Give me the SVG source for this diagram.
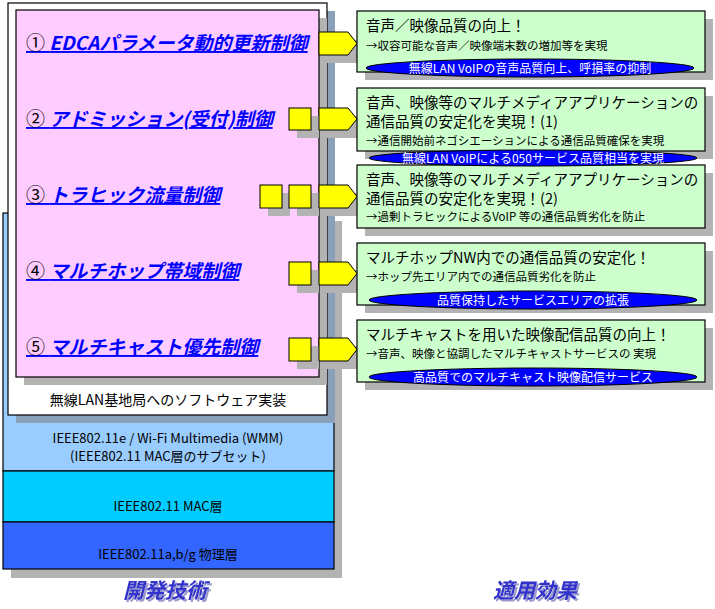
<svg xmlns="http://www.w3.org/2000/svg" width="715" height="609" viewBox="0 0 715 609">
<defs>
<filter id="ds" x="-10%" y="-20%" width="130%" height="150%"><feDropShadow dx="2" dy="2" stdDeviation="0.5" flood-color="#9999cc"/></filter>
</defs>
<style>
text{font-family:"Noto Sans CJK JP","Liberation Sans",sans-serif}
.sh{fill:#b3b3b3}
.ln{stroke:#000;stroke-width:1.2}
.lab{font-size:19px;font-weight:bold;font-style:italic;fill:#0000ff;text-decoration:underline}
.num{font-size:19px;fill:#000;font-style:normal;font-weight:normal}
.yl{fill:#ffff00;stroke:#000;stroke-width:1}
.gb{fill:#ccffcc;stroke:#000;stroke-width:1.2}
.t1{font-size:14.5px;fill:#000}
.t2{font-size:11.5px;fill:#000}
.el{fill:#0000ff;stroke:#000;stroke-width:1}
.et{font-size:12px;fill:#fff;text-anchor:middle}
.lay{font-size:13px;fill:#000;text-anchor:middle}
.big{font-size:21px;font-weight:bold;font-style:italic;fill:#3333cc;text-anchor:middle;filter:url(#ds)}
</style>
<g id="stack">
<rect class="sh" x="11" y="221" width="331" height="357"/>
<rect x="3" y="213" width="331" height="258" fill="#99ccff" class="ln"/>
<rect x="3" y="471" width="331" height="51" fill="#00ccff" class="ln"/>
<rect x="3" y="522" width="331" height="47" fill="#3366ff" class="ln"/>
<rect x="16" y="11" width="319" height="412" fill="#8aa0b8"/>
<rect x="8" y="3" width="319" height="412" fill="#fff" class="ln"/>
<rect x="24" y="18" width="303" height="367" class="sh"/>
<rect x="16" y="10" width="303" height="367" fill="#ffccff" class="ln"/>
<text x="168" y="405" class="lay" style="font-size:14px">無線LAN基地局へのソフトウェア実装</text>
<text x="168" y="443" class="lay">IEEE802.11e / Wi-Fi Multimedia (WMM)</text>
<text x="168" y="461" class="lay">(IEEE802.11 MAC層のサブセット)</text>
<text x="168" y="511" class="lay">IEEE802.11 MAC層</text>
<text x="168" y="559" class="lay">IEEE802.11a,b/g 物理層</text>
</g>
<g id="labels">
<text x="26" y="50" class="lab"><tspan class="num">① </tspan>EDCAパラメータ動的更新制御</text>
<text x="26" y="126" class="lab"><tspan class="num">② </tspan>アドミッション(受付)制御</text>
<text x="26" y="202" class="lab"><tspan class="num">③ </tspan>トラヒック流量制御</text>
<text x="26" y="278" class="lab"><tspan class="num">④ </tspan>マルチホップ帯域制御</text>
<text x="26" y="354" class="lab"><tspan class="num">⑤ </tspan>マルチキャスト優先制御</text>
</g>
<g id="connectors">
<g fill="#b3b3b3">
<rect x="327" y="40" width="38" height="23"/>
<rect x="297" y="116" width="22" height="22"/><rect x="327" y="116" width="38" height="22"/>
<rect x="268" y="193" width="22" height="23"/><rect x="297" y="193" width="22" height="23"/><rect x="327" y="193" width="38" height="23"/>
<rect x="297" y="270" width="22" height="23"/><rect x="327" y="270" width="38" height="23"/>
<rect x="297" y="346" width="22" height="23"/><rect x="327" y="346" width="38" height="23"/>
</g>
<polygon class="yl" points="319,32 348,32 357,43.5 348,55 319,55"/>
<rect class="yl" x="289" y="108" width="22" height="22"/>
<polygon class="yl" points="319,108 348,108 357,119 348,130 319,130"/>
<rect class="yl" x="260" y="185" width="22" height="23"/>
<rect class="yl" x="289" y="185" width="22" height="23"/>
<polygon class="yl" points="319,185 348,185 357,196.5 348,208 319,208"/>
<rect class="yl" x="289" y="262" width="22" height="23"/>
<polygon class="yl" points="319,262 348,262 357,273.5 348,285 319,285"/>
<rect class="yl" x="289" y="338" width="22" height="23"/>
<polygon class="yl" points="319,338 348,338 357,349.5 348,361 319,361"/>
</g>
<g id="effect1">
<rect class="sh" x="365" y="19" width="348" height="61"/>
<rect class="gb" x="357" y="11" width="348" height="61"/>
<text x="366" y="31" class="t1">音声／映像品質の向上！</text>
<text x="366" y="50" class="t2">→収容可能な音声／映像端末数の増加等を実現</text>
<ellipse class="el" cx="530" cy="68" rx="164" ry="9"/>
<text x="530" y="72.5" class="et">無線LAN VoIPの音声品質向上、呼損率の抑制</text>
</g>
<g id="effect2">
<rect class="sh" x="365" y="96" width="348" height="63"/>
<rect class="gb" x="357" y="88" width="348" height="63"/>
<text x="366" y="108" class="t1">音声、映像等のマルチメディアアプリケーションの</text>
<text x="366" y="127" class="t1">通信品質の安定化を実現！(1)</text>
<text x="366" y="145" class="t2">→通信開始前ネゴシエーションによる通信品質確保を実現</text>
</g>
<g id="effect3">
<rect class="sh" x="365" y="173" width="348" height="63"/>
<rect class="gb" x="357" y="165" width="348" height="63"/>
<text x="366" y="185" class="t1">音声、映像等のマルチメディアアプリケーションの</text>
<text x="366" y="204" class="t1">通信品質の安定化を実現！(2)</text>
<text x="366" y="221" class="t2">→過剰トラヒックによるVoIP 等の通信品質劣化を防止</text>
</g>
<g id="ellipse2">
<ellipse class="el" cx="533" cy="158" rx="164" ry="8"/>
<text x="533" y="162.5" class="et">無線LAN VoIPによる050サービス品質相当を実現</text>
</g>
<g id="effect4">
<rect class="sh" x="365" y="251" width="348" height="62"/>
<rect class="gb" x="357" y="243" width="348" height="62"/>
<text x="366" y="263" class="t1">マルチホップNW内での通信品質の安定化！</text>
<text x="366" y="281" class="t2">→ホップ先エリア内での通信品質劣化を防止</text>
<ellipse class="el" cx="533" cy="300" rx="164" ry="9"/>
<text x="533" y="304.5" class="et">品質保持したサービスエリアの拡張</text>
</g>
<g id="effect5">
<rect class="sh" x="365" y="328" width="348" height="62"/>
<rect class="gb" x="357" y="320" width="348" height="62"/>
<text x="366" y="340" class="t1">マルチキャストを用いた映像配信品質の向上！</text>
<text x="366" y="358" class="t2">→音声、映像と協調したマルチキャストサービスの 実現</text>
<ellipse class="el" cx="533" cy="377" rx="164" ry="9"/>
<text x="533" y="381.5" class="et">高品質でのマルチキャスト映像配信サービス</text>
</g>
<g id="titles">
<text x="165" y="598" class="big">開発技術</text>
<text x="535" y="598" class="big">適用効果</text>
</g>
</svg>
